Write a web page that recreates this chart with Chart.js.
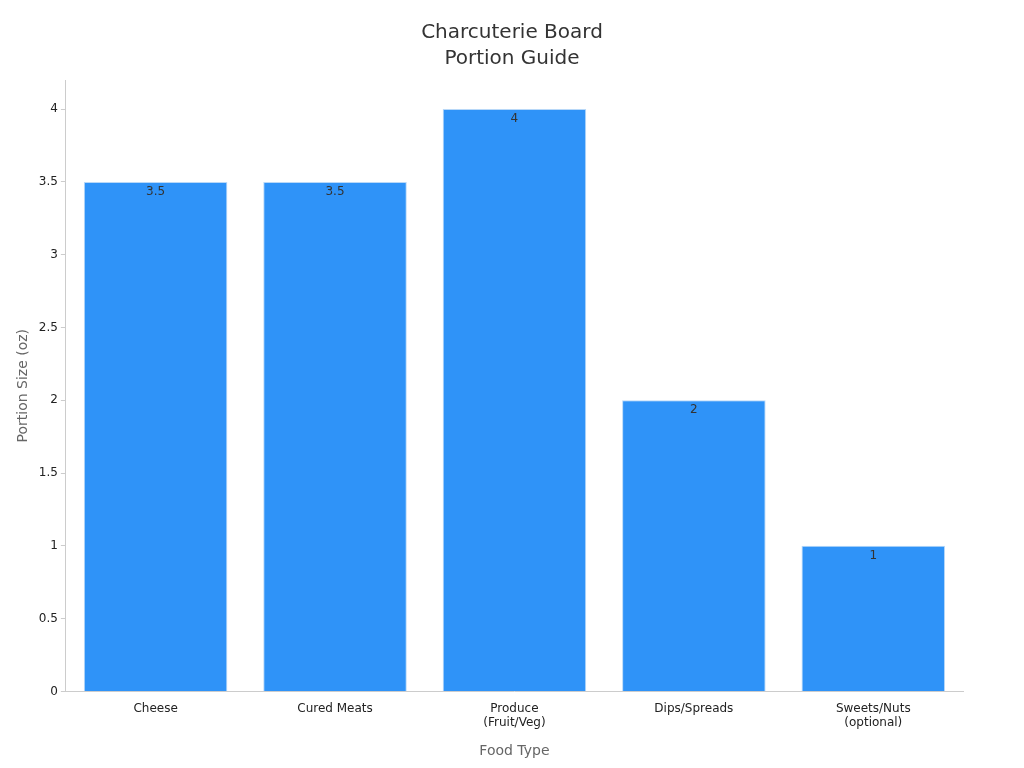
<!DOCTYPE html>
<html><head><meta charset="utf-8">
<script src="https://cdn.jsdelivr.net/npm/chart.js@4"></script>
<style>html,body{margin:0;padding:0;background:#fff}#w{width:1024px;height:768px}</style>
</head><body><div id="w"><canvas id="c"></canvas></div>
<script>
const categories = [["Cheese"], ["Cured Meats"], ["Produce", "(Fruit/Veg)"], ["Dips/Spreads"], ["Sweets/Nuts", "(optional)"]];
const portions = [3.5, 3.5, 4, 2, 1];
const titleLines = ["Charcuterie Board", "Portion Guide"];
const font = "'DejaVu Sans', sans-serif";
const labelPlugin = {
  id: 'vals',
  afterDatasetsDraw(chart) {
    const ctx = chart.ctx;
    const meta = chart.getDatasetMeta(0);
    ctx.save();
    ctx.font = "12px " + font;
    ctx.fillStyle = "#333";
    ctx.textAlign = "center";
    ctx.textBaseline = "top";
    meta.data.forEach((b, i) => ctx.fillText(String(portions[i]), b.x, b.y + 4));
    ctx.font = "20px " + font;
    ctx.textBaseline = "middle";
    titleLines.forEach((t, i) => ctx.fillText(t, chart.width / 2, 33 + i * 26));
    ctx.restore();
  }
};
new Chart(document.getElementById('c'), {
  type: 'bar',
  data: { labels: categories, datasets: [{ data: portions, backgroundColor: '#2f93f8', borderColor: '#b8d8f8', borderWidth: 1, barPercentage: 0.8, categoryPercentage: 1 }] },
  options: {
    responsive: true, maintainAspectRatio: false, animation: false,
    layout: { padding: { left: 11, right: 61, top: 80, bottom: 4 } },
    plugins: { legend: { display: false }, tooltip: { enabled: false }, title: { display: false } },
    scales: {
      x: { grid: { display: false }, border: { color: '#ccc' },
           ticks: { color: '#222', font: { family: font, size: 12 }, padding: 2 },
           title: { display: true, text: 'Food Type', color: '#666', font: { family: font, size: 14 }, padding: { top: 11 } } },
      y: { min: 0, max: 4.2, grid: { display: true, drawOnChartArea: false, tickLength: 5, color: '#ccc' }, border: { color: '#ccc' },
           ticks: { stepSize: 0.5, color: '#222', font: { family: font, size: 12 },
                    callback: v => (Math.abs(v * 2 - Math.round(v * 2)) < 1e-6 ? String(v) : null) },
           title: { display: true, text: 'Portion Size (oz)', color: '#666', font: { family: font, size: 14 } } }
    }
  },
  plugins: [labelPlugin]
});
</script></body></html>
